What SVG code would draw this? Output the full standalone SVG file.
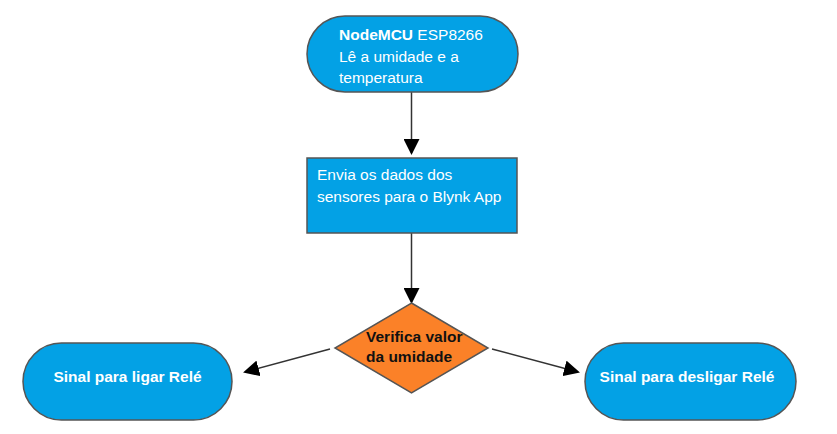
<svg xmlns="http://www.w3.org/2000/svg" width="837" height="434" viewBox="0 0 837 434">
<style>
.node{fill:#03A1E5;stroke:#555;stroke-width:1.5}
.dec{fill:#FB8128;stroke:#555;stroke-width:1.5}
.t{font-family:"Liberation Sans",Arial,sans-serif;font-size:15.5px;fill:#fff}
.b{font-weight:bold}
.d{font-family:"Liberation Sans",Arial,sans-serif;font-size:15.5px;font-weight:bold;fill:#111}
.c{stroke:#333;stroke-width:1.5;fill:none}
</style>
<defs>
<marker id="ahd" markerWidth="16" markerHeight="16" refX="14" refY="8" orient="auto" markerUnits="userSpaceOnUse" viewBox="0 0 16 16">
<path d="M0,0 L16,8 L0,16 z" fill="#000"/>
</marker>
</defs>
<g id="connectors">
<line class="c" x1="411.5" y1="92" x2="411.5" y2="153" marker-end="url(#ahd)"/>
<line class="c" x1="411.5" y1="233" x2="411.5" y2="302" marker-end="url(#ahd)"/>
<line class="c" x1="330" y1="349" x2="245" y2="372" marker-end="url(#ahd)"/>
<line class="c" x1="492" y1="349" x2="578" y2="372" marker-end="url(#ahd)"/>
</g>
<g id="n1">
<rect class="node" x="307" y="16" width="211" height="76" rx="38"/>
<text class="t" x="339" y="40"><tspan class="b">NodeMCU</tspan> ESP8266</text>
<text class="t" x="339" y="62">Lê a umidade e a</text>
<text class="t" x="339" y="83">temperatura</text>
</g>
<g id="n2">
<rect class="node" x="307" y="158" width="210" height="75"/>
<text class="t" x="317" y="180">Envia os dados dos</text>
<text class="t" x="317" y="202">sensores para o Blynk App</text>
</g>
<g id="n3">
<polygon class="dec" points="411.5,303 488,348 411.5,393 335,348"/>
<text class="d" x="366" y="342">Verifica valor</text>
<text class="d" x="366" y="362">da umidade</text>
</g>
<g id="n4">
<rect class="node" x="23" y="343" width="209" height="77" rx="38.5"/>
<text class="t b" x="127.5" y="382" text-anchor="middle">Sinal para ligar Relé</text>
</g>
<g id="n5">
<rect class="node" x="585" y="343" width="211" height="77" rx="38.5"/>
<text class="t b" x="687" y="382" text-anchor="middle">Sinal para desligar Relé</text>
</g>
</svg>
